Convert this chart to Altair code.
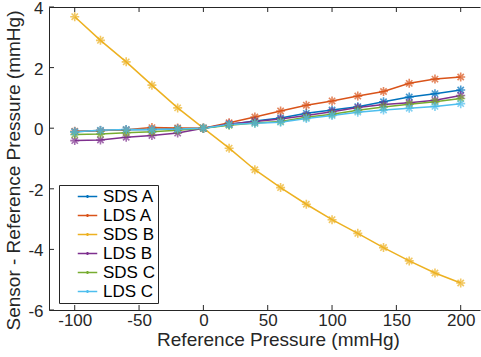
import altair as alt
import pandas as pd

x_vals = [-100, -80, -60, -40, -20, 0, 20, 40, 60, 80, 100, 120, 140, 160, 180, 200]

series_names = ["SDS A", "LDS A", "SDS B", "LDS B", "SDS C", "LDS C"]
series_colors = ["#0072BD", "#D95319", "#EDB120", "#7E2F8E", "#77AC30", "#4DBEEE"]

sds_a = [-0.12, -0.08, -0.05, -0.04, -0.02, 0, 0.12, 0.24, 0.34, 0.49, 0.60, 0.71, 0.87, 1.03, 1.14, 1.26]
lds_a = [-0.10, -0.08, -0.05, 0.02, 0.01, 0, 0.18, 0.37, 0.57, 0.76, 0.90, 1.06, 1.21, 1.48, 1.62, 1.69]
sds_b = [3.68, 2.90, 2.19, 1.42, 0.67, 0, -0.66, -1.37, -1.96, -2.51, -3.02, -3.47, -3.94, -4.38, -4.78, -5.11]
lds_b = [-0.41, -0.39, -0.30, -0.24, -0.16, 0, 0.14, 0.22, 0.30, 0.42, 0.54, 0.68, 0.78, 0.84, 0.92, 1.08]
sds_c = [-0.21, -0.19, -0.15, -0.12, -0.07, 0, 0.10, 0.17, 0.22, 0.36, 0.46, 0.59, 0.70, 0.79, 0.87, 0.98]
lds_c = [-0.12, -0.07, -0.04, -0.04, -0.03, 0, 0.12, 0.16, 0.20, 0.32, 0.42, 0.53, 0.60, 0.66, 0.72, 0.81]

x_ticks = [-100, -50, 0, 50, 100, 150, 200]
y_ticks = [-6, -4, -2, 0, 2, 4]

all_series = [sds_a, lds_a, sds_b, lds_b, sds_c, lds_c]
rows = []
for name, vals in zip(series_names, all_series):
    for i, (xv, yv) in enumerate(zip(x_vals, vals)):
        rows.append({"x": xv, "y": yv, "series": name, "order": i})
df = pd.DataFrame(rows)
df_xt = pd.DataFrame({"x": x_ticks})
df_yt = pd.DataFrame({"y": y_ticks})

FONT = "Liberation Sans"
AX = "#262626"
W, H = 431, 303

xscale = alt.Scale(domain=[-120, 215], nice=False, zero=False)
yscale = alt.Scale(domain=[-6, 4], nice=False, zero=False)
cscale = alt.Scale(domain=series_names, range=series_colors)

star = "M-1,0L1,0M0,-1L0,1M-0.7,-0.7L0.7,0.7M-0.7,0.7L0.7,-0.7"
legend_sym = "M-6.5,0L6.5,0M-1,0L1,0M0,-1L0,1M-0.7,-0.7L0.7,0.7M-0.7,0.7L0.7,-0.7"

x_axis = alt.Axis(values=x_ticks, grid=False, ticks=False, tickSize=0,
                  labelFont=FONT, labelFontSize=17, labelColor=AX, labelPadding=2,
                  labelExpr="'' + datum.value", labelFlush=False,
                  domainColor=AX, domainWidth=1,
                  title="Reference Pressure (mmHg)", titleFont=FONT, titleFontSize=19,
                  titleFontWeight="normal", titleColor=AX, titleX=229, titleY=35,
                  titleBaseline="alphabetic")
y_axis = alt.Axis(values=y_ticks, grid=False, ticks=False, tickSize=0,
                  labelFont=FONT, labelFontSize=17, labelColor=AX, labelPadding=6,
                  labelExpr="'' + datum.value", labelOffset=1.5,
                  domainColor=AX, domainWidth=1,
                  title="Sensor - Reference Pressure (mmHg)", titleFont=FONT, titleFontSize=19,
                  titleFontWeight="normal", titleColor=AX, titleX=-26, titleY=163)

lines = alt.Chart(df).mark_line(strokeWidth=1.5, clip=True).encode(
    x=alt.X("x:Q", scale=xscale, axis=x_axis),
    y=alt.Y("y:Q", scale=yscale, axis=y_axis),
    color=alt.Color("series:N", scale=cscale, sort=series_names,
                    legend=alt.Legend(orient="none", legendX=10, legendY=178, title=None,
                                      symbolType=legend_sym, symbolSize=9,
                                      symbolStrokeWidth=1.5, symbolFillColor="transparent",
                                      symbolOffset=17, labelOffset=7,
                                      labelFont=FONT, labelFontSize=17, labelColor="black",
                                      labelExpr="datum.label + '\u2002\u2002\u2002'",
                                      padding=3, rowPadding=1,
                                      strokeColor=AX, fillColor="white")),
    order="order:Q",
)

points = alt.Chart(df).mark_point(shape=star, filled=False, size=81, strokeWidth=1.6, clip=True).encode(
    x=alt.X("x:Q", scale=xscale, axis=None),
    y=alt.Y("y:Q", scale=yscale),
    color=alt.Color("series:N", scale=cscale, sort=series_names, legend=None),
)

top_ticks = alt.Chart(df_xt).mark_rule(color=AX, strokeWidth=1).encode(
    x=alt.X("x:Q", scale=xscale,
            axis=alt.Axis(orient="top", labels=False, ticks=False, grid=False, title=None,
                          domainColor=AX, domainWidth=1, values=x_ticks)),
    y=alt.value(0), y2=alt.value(5),
)
bottom_ticks = alt.Chart(df_xt).mark_rule(color=AX, strokeWidth=1).encode(
    x=alt.X("x:Q", scale=xscale, axis=None),
    y=alt.value(H - 5), y2=alt.value(H),
)
left_ticks = alt.Chart(df_yt).mark_rule(color=AX, strokeWidth=1).encode(
    x=alt.value(0), x2=alt.value(5),
    y=alt.Y("y:Q", scale=yscale),
)

chart = alt.layer(lines, points, bottom_ticks, left_ticks, top_ticks).resolve_axis(
    x="independent"
).properties(
    width=W, height=H,
    autosize=alt.AutoSizeParams(type="none"),
    padding={"left": 49, "top": 7, "right": 1, "bottom": 47},
    background="white",
).configure_view(stroke=None)

chart.save("out.html", embed_options={"renderer": "svg", "actions": False})
